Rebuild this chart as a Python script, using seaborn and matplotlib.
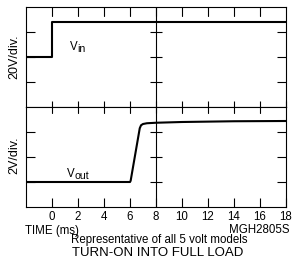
import matplotlib
matplotlib.use('Agg')
import matplotlib.pyplot as plt
from matplotlib.lines import Line2D
from matplotlib.transforms import blended_transform_factory
import seaborn as sns
import pandas as pd

# data (in scope divisions, time in ms)
vin_time = [-2, 0, 0, 18]
vin_div = [2.0, 2.0, 3.4, 3.4]

vout_time = [-2, 6.0, 6.05, 6.4, 6.75, 6.85, 7.0, 7.3, 8, 10, 14, 18]
vout_div = [1.0, 1.0, 1.05, 2.1, 3.15, 3.27, 3.32, 3.35, 3.37, 3.40, 3.43, 3.44]

time_ticks = [0, 2, 4, 6, 8, 10, 12, 14, 16, 18]
div_ticks = [1, 2, 3]

vin_df = pd.DataFrame({'time': vin_time, 'div': vin_div})
vout_df = pd.DataFrame({'time': vout_time, 'div': vout_div})

sns.set_style('white', rc={'text.color': 'black', 'xtick.color': 'black',
                           'ytick.color': 'black', 'axes.edgecolor': 'black'})
plt.rcParams['font.family'] = ['Liberation Sans', 'DejaVu Sans']

fig = plt.figure(figsize=(2.93, 2.65), dpi=100)
W, H = 293, 265
ax1 = fig.add_axes([26 / W, 1 - 107 / H, 260 / W, 100 / H])
ax2 = fig.add_axes([26 / W, 1 - 207 / H, 260 / W, 100 / H])

long_tick = 6.5
short_tick = 4.3

for ax, df in [(ax1, vin_df), (ax2, vout_df)]:
    sns.lineplot(data=df, x='time', y='div', ax=ax, color='black', lw=1.5,
                 estimator=None, sort=False)
    ax.set_xlim(-2, 18)
    ax.set_ylim(0, 4)
    ax.set_xlabel('')
    ax.set_ylabel('')
    for s in ax.spines.values():
        s.set_linewidth(0.8)
        s.set_color('black')
    ax.set_yticks(div_ticks)
    ax.tick_params(axis='y', left=True, right=True, direction='in',
                   length=long_tick, width=0.8, labelleft=False)
    ax.set_xticks(time_ticks)
    # centre graticule line with its cross ticks
    ax.axvline(8, color='black', lw=0.8)
    ax.plot([8] * len(div_ticks), div_ticks, ls='none', marker='_',
            ms=8.6, mew=0.8, color='black')

# top panel: short ticks up from the middle line
ax1.tick_params(axis='x', bottom=True, top=False, direction='in',
                length=short_tick, width=0.8, labelbottom=False)

# bottom panel: labelled long ticks at bottom
ax2.set_xticklabels([str(t) for t in time_ticks])
ax2.tick_params(axis='x', bottom=True, top=False, direction='in',
                length=long_tick, width=0.8, labelsize=8.3, pad=3.0)

# graticule ticks hanging from the top edge and from the middle line,
# drawn as figure-level lines (x in data units, y in figure fraction)
tick_tr = blended_transform_factory(ax1.transData, fig.transFigure)
for t in time_ticks[:-1]:
    fig.add_artist(Line2D([t, t], [1 - 7 / H, 1 - 16 / H], transform=tick_tr,
                          color='black', lw=0.8, zorder=5))
    fig.add_artist(Line2D([t, t], [1 - 107 / H, 1 - 113 / H], transform=tick_tr,
                          color='black', lw=0.8, zorder=5))

# trace labels
ax1.text(1.38, 2.28, 'V', ha='left', va='baseline', fontsize=8.3)
ax1.annotate('in', xy=(1.38, 2.28), xytext=(5.6, -1.5), textcoords='offset points',
             ha='left', va='baseline', fontsize=7.6)
ax2.text(1.15, 1.2, 'V', ha='left', va='baseline', fontsize=8.3)
ax2.annotate('out', xy=(1.15, 1.2), xytext=(5.6, -1.5), textcoords='offset points',
             ha='left', va='baseline', fontsize=7.6)

# vertical scale labels
fig.text(14.5 / W, 1 - 57 / H, '20V/div.', rotation=90, ha='center', va='center', fontsize=9)
fig.text(14.5 / W, 1 - 155 / H, '2V/div.', rotation=90, ha='center', va='center', fontsize=9)

# bottom texts
fig.text(25 / W, 1 - 234 / H, 'TIME (ms)', ha='left', va='baseline', fontsize=8.3)
fig.text(289 / W, 1 - 233 / H, 'MGH2805S', ha='right', va='baseline', fontsize=8.3)
fig.text(159 / W, 1 - 243 / H, 'Representative of all 5 volt models',
         ha='center', va='baseline', fontsize=8.3)
fig.text(157.5 / W, 1 - 256 / H, 'TURN-ON INTO FULL LOAD',
         ha='center', va='baseline', fontsize=9.5)

fig.savefig('out.png', dpi=100)
